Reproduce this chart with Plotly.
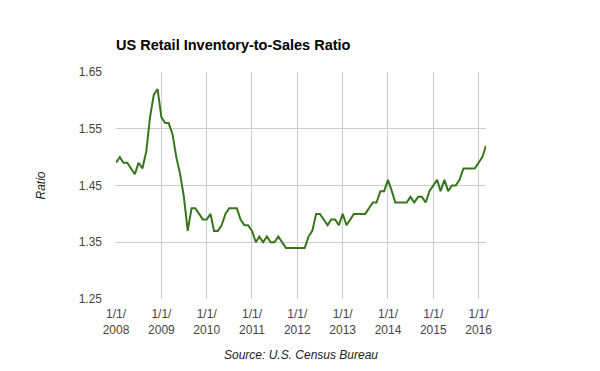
import plotly.graph_objects as go
import pandas as pd

# Monthly ratio values, Jan 2008 .. Mar 2016
ratio_2008 = [1.49, 1.50, 1.49, 1.49, 1.48, 1.47, 1.49, 1.48, 1.51, 1.57, 1.61, 1.62]
ratio_2009 = [1.57, 1.56, 1.56, 1.54, 1.50, 1.47, 1.43, 1.37, 1.41, 1.41, 1.40, 1.39]
ratio_2010 = [1.39, 1.40, 1.37, 1.37, 1.38, 1.40, 1.41, 1.41, 1.41, 1.39, 1.38, 1.38]
ratio_2011 = [1.37, 1.35, 1.36, 1.35, 1.36, 1.35, 1.35, 1.36, 1.35, 1.34, 1.34, 1.34]
ratio_2012 = [1.34, 1.34, 1.34, 1.36, 1.37, 1.40, 1.40, 1.39, 1.38, 1.39, 1.39, 1.38]
ratio_2013 = [1.40, 1.38, 1.39, 1.40, 1.40, 1.40, 1.40, 1.41, 1.42, 1.42, 1.44, 1.44]
ratio_2014 = [1.46, 1.44, 1.42, 1.42, 1.42, 1.42, 1.43, 1.42, 1.43, 1.43, 1.42, 1.44]
ratio_2015 = [1.45, 1.46, 1.44, 1.46, 1.44, 1.45, 1.45, 1.46, 1.48, 1.48, 1.48, 1.48]
ratio_2016 = [1.49, 1.50, 1.52]

ratios = (ratio_2008 + ratio_2009 + ratio_2010 + ratio_2011 + ratio_2012
          + ratio_2013 + ratio_2014 + ratio_2015 + ratio_2016)
months = pd.date_range("2008-01-01", periods=len(ratios), freq="MS")

tick_years = [2008, 2009, 2010, 2011, 2012, 2013, 2014, 2015, 2016]
tick_dates = [f"{y}-01-01" for y in tick_years]
tick_labels = [f"1/1/<br>{y}" for y in tick_years]

y_ticks = [1.25, 1.35, 1.45, 1.55, 1.65]

fig = go.Figure()
fig.add_trace(go.Scatter(
    x=months, y=ratios, mode="lines",
    line=dict(color="#38761d", width=2),
    hoverinfo="x+y",
))

font_family = "Liberation Sans, Arial, sans-serif"

# the page body adds an 8px offset, so the figure is 592x363
W, H = 592, 363

fig.update_layout(
    width=W, height=H,
    margin=dict(l=108, r=114, t=64, b=72, autoexpand=False),
    paper_bgcolor="white", plot_bgcolor="white",
    showlegend=False,
    font=dict(family=font_family, size=12, color="#444444"),
    title=dict(
        text="<b>US Retail Inventory-to-Sales Ratio</b>",
        x=108 / W, xanchor="left", xref="container",
        y=1 - 37 / H, yanchor="middle", yref="container",
        font=dict(family=font_family, size=14.5, color="#000000"),
    ),
    xaxis=dict(
        range=[months[0], months[-1]],
        tickvals=tick_dates, ticktext=tick_labels,
        showgrid=True, gridcolor="#cccccc", gridwidth=1,
        zeroline=False, showline=False, ticks="",
        ticklabelstandoff=6, automargin=False,
        tickfont=dict(size=12, color="#444444"),
        title=dict(text="<i>Source: U.S. Census Bureau</i>", standoff=15,
                   font=dict(size=12, color="#222222")),
        fixedrange=True,
    ),
    yaxis=dict(
        range=[1.25, 1.65],
        tickvals=y_ticks, tickformat=".2f",
        showgrid=True, gridcolor="#cccccc", gridwidth=1,
        zeroline=False, showline=False, ticks="",
        ticklabelstandoff=13, automargin=False,
        tickfont=dict(size=12, color="#444444"),
        title=dict(text="<i>Ratio</i>", standoff=30,
                   font=dict(size=12, color="#222222")),
        fixedrange=True,
    ),
)

fig.write_html("out.html")
